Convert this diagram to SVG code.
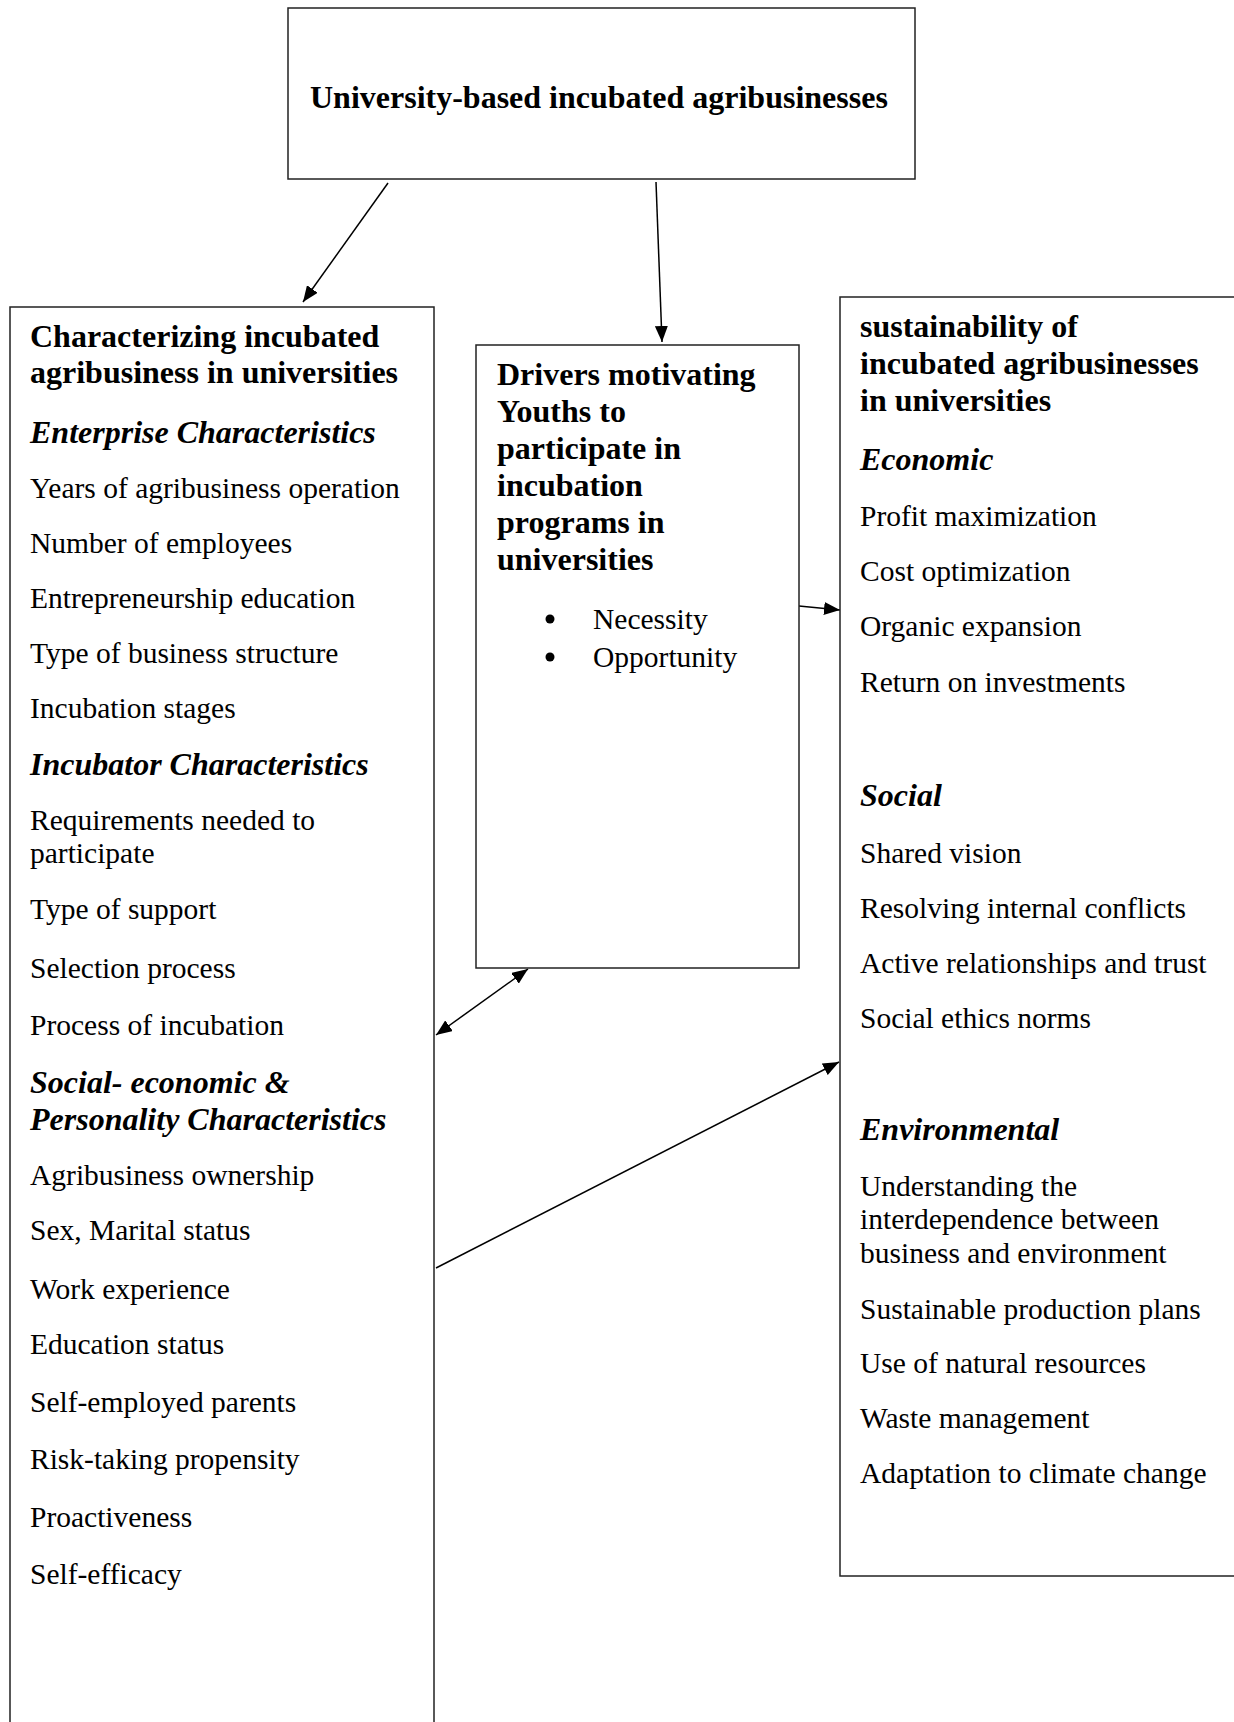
<svg xmlns="http://www.w3.org/2000/svg" width="1234" height="1722" viewBox="0 0 1234 1722">
<style>
.box{fill:#fff;stroke:#222;stroke-width:1.5}
text{font-family:"Liberation Serif","Times New Roman",serif;fill:#000}
.h{font-size:32px;font-weight:bold}
.hi{font-size:32px;font-weight:bold;font-style:italic}
.b{font-size:29.5px}
.con{stroke:#000;stroke-width:1.5;fill:none}
.dot{fill:#000}
</style>
<defs>
<marker id="ah" viewBox="0 0 16 13" refX="16" refY="6.5" markerWidth="16" markerHeight="13" markerUnits="userSpaceOnUse" orient="auto-start-reverse">
<path d="M0,0 L16,6.5 L0,13 Z" fill="#000"/>
</marker>
</defs>
<rect width="1234" height="1722" fill="#fff"/>
<g id="connectors">
<line class="con" x1="388" y1="183" x2="303" y2="302" marker-end="url(#ah)"/>
<line class="con" x1="656" y1="182" x2="662" y2="342" marker-end="url(#ah)"/>
<line class="con" x1="799" y1="606" x2="840" y2="610" marker-end="url(#ah)"/>
<line class="con" x1="436" y1="1035" x2="528" y2="969" marker-start="url(#ah)" marker-end="url(#ah)"/>
<line class="con" x1="436" y1="1268" x2="839" y2="1062" marker-end="url(#ah)"/>
</g>
<g id="node-top">
<rect class="box" x="288" y="8" width="627" height="171"/>
<text class="h" x="310" y="108">University-based incubated agribusinesses</text>
</g>
<g id="node-left">
<rect class="box" x="10" y="307" width="424" height="1430"/>
<text class="h" x="30" y="347">Characterizing incubated</text>
<text class="h" x="30" y="383">agribusiness in universities</text>
<text class="hi" x="30" y="443">Enterprise Characteristics</text>
<text class="b" x="30" y="498">Years of agribusiness operation</text>
<text class="b" x="30" y="553">Number of employees</text>
<text class="b" x="30" y="608">Entrepreneurship education</text>
<text class="b" x="30" y="663">Type of business structure</text>
<text class="b" x="30" y="718">Incubation stages</text>
<text class="hi" x="30" y="775">Incubator Characteristics</text>
<text class="b" x="30" y="830">Requirements needed to</text>
<text class="b" x="30" y="863">participate</text>
<text class="b" x="30" y="919">Type of support</text>
<text class="b" x="30" y="978">Selection process</text>
<text class="b" x="30" y="1035">Process of incubation</text>
<text class="hi" x="30" y="1093">Social- economic &amp;</text>
<text class="hi" x="30" y="1130">Personality Characteristics</text>
<text class="b" x="30" y="1185">Agribusiness ownership</text>
<text class="b" x="30" y="1240">Sex, Marital status</text>
<text class="b" x="30" y="1299">Work experience</text>
<text class="b" x="30" y="1354">Education status</text>
<text class="b" x="30" y="1412">Self-employed parents</text>
<text class="b" x="30" y="1469">Risk-taking propensity</text>
<text class="b" x="30" y="1527">Proactiveness</text>
<text class="b" x="30" y="1584">Self-efficacy</text>
</g>
<g id="node-middle">
<rect class="box" x="476" y="345" width="323" height="623"/>
<text class="h" x="497" y="385">Drivers motivating</text>
<text class="h" x="497" y="422">Youths to</text>
<text class="h" x="497" y="459">participate in</text>
<text class="h" x="497" y="496">incubation</text>
<text class="h" x="497" y="533">programs in</text>
<text class="h" x="497" y="570">universities</text>
<circle class="dot" cx="550" cy="619" r="4.5"/>
<text class="b" x="593" y="629">Necessity</text>
<circle class="dot" cx="550" cy="657" r="4.5"/>
<text class="b" x="593" y="667">Opportunity</text>
</g>
<g id="node-right">
<rect class="box" x="840" y="297" width="420" height="1279"/>
<text class="h" x="860" y="337">sustainability of</text>
<text class="h" x="860" y="374">incubated agribusinesses</text>
<text class="h" x="860" y="411">in universities</text>
<text class="hi" x="860" y="470">Economic</text>
<text class="b" x="860" y="526">Profit maximization</text>
<text class="b" x="860" y="581">Cost optimization</text>
<text class="b" x="860" y="636">Organic expansion</text>
<text class="b" x="860" y="692">Return on investments</text>
<text class="hi" x="860" y="806">Social</text>
<text class="b" x="860" y="863">Shared vision</text>
<text class="b" x="860" y="918">Resolving internal conflicts</text>
<text class="b" x="860" y="973">Active relationships and trust</text>
<text class="b" x="860" y="1028">Social ethics norms</text>
<text class="hi" x="860" y="1140">Environmental</text>
<text class="b" x="860" y="1196">Understanding the</text>
<text class="b" x="860" y="1229">interdependence between</text>
<text class="b" x="860" y="1263">business and environment</text>
<text class="b" x="860" y="1319">Sustainable production plans</text>
<text class="b" x="860" y="1373">Use of natural resources</text>
<text class="b" x="860" y="1428">Waste management</text>
<text class="b" x="860" y="1483">Adaptation to climate change</text>
</g>
</svg>
